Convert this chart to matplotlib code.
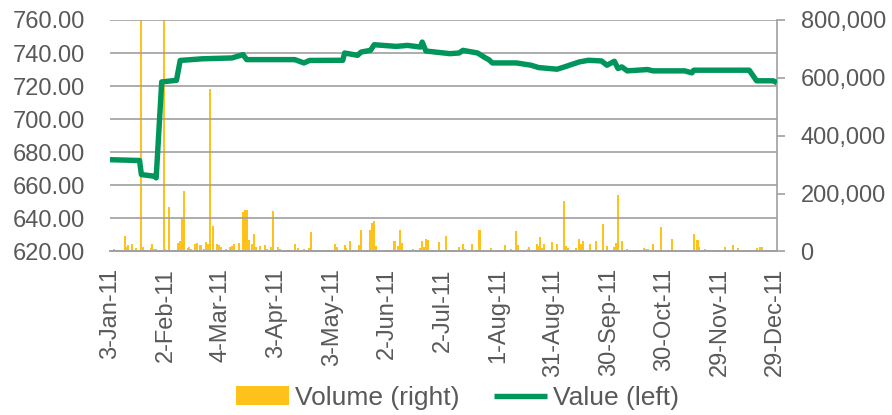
import pandas as pd
import matplotlib
matplotlib.use('Agg')
from matplotlib import pyplot as plt

plt.rcParams['font.family'] = ['Liberation Sans', 'DejaVu Sans']

# value series (left axis)
value_dates = ['2011-01-03', '2011-01-19', '2011-01-20', '2011-01-27', '2011-01-28',
               '2011-01-31', '2011-02-08', '2011-02-10', '2011-02-22', '2011-03-10',
               '2011-03-16', '2011-03-18', '2011-04-13', '2011-04-18', '2011-04-21',
               '2011-05-09', '2011-05-10', '2011-05-17', '2011-05-19', '2011-05-24',
               '2011-05-26', '2011-06-07', '2011-06-13', '2011-06-20', '2011-06-21',
               '2011-06-23', '2011-07-06', '2011-07-11', '2011-07-13', '2011-07-21',
               '2011-07-25', '2011-07-27', '2011-07-29', '2011-08-11', '2011-08-19',
               '2011-08-23', '2011-09-02', '2011-09-06', '2011-09-14', '2011-09-19',
               '2011-09-26', '2011-09-29', '2011-10-03', '2011-10-05', '2011-10-07',
               '2011-10-10', '2011-10-21', '2011-10-24', '2011-11-10', '2011-11-14',
               '2011-11-15', '2011-12-15', '2011-12-19', '2011-12-28', '2011-12-30']
values = [675.5, 675.0, 666.5, 665.5, 664.5,
          722.5, 723.5, 735.5, 736.5, 737.0,
          739.0, 736.0, 736.0, 734.0, 735.5,
          735.6, 740.0, 738.6, 740.6, 741.6,
          745.0, 744.0, 744.6, 743.6, 746.6,
          741.2, 739.6, 740.0, 741.6, 740.0,
          737.2, 736.0, 734.0, 734.0, 732.6,
          731.2, 730.2, 731.6, 734.6, 735.6,
          735.2, 732.6, 735.0, 730.6, 731.6,
          729.2, 730.0, 729.2, 729.2, 728.0,
          729.6, 729.6, 723.2, 723.2, 722.0]

# volume series (right axis)
volume_dates = ['2011-01-05', '2011-01-11', '2011-01-12', '2011-01-13', '2011-01-15',
                '2011-01-17', '2011-01-20', '2011-01-21', '2011-01-25', '2011-01-26',
                '2011-01-27', '2011-01-28', '2011-02-01', '2011-02-02', '2011-02-04',
                '2011-02-09', '2011-02-10', '2011-02-11', '2011-02-12', '2011-02-14',
                '2011-02-15', '2011-02-16', '2011-02-18', '2011-02-19', '2011-02-21',
                '2011-02-23', '2011-02-24', '2011-02-25', '2011-02-26', '2011-02-28',
                '2011-03-02', '2011-03-03', '2011-03-04', '2011-03-07', '2011-03-09',
                '2011-03-10', '2011-03-11', '2011-03-14', '2011-03-16', '2011-03-17',
                '2011-03-18', '2011-03-19', '2011-03-21', '2011-03-22', '2011-03-23',
                '2011-03-25', '2011-03-28', '2011-03-29', '2011-03-31', '2011-04-01',
                '2011-04-04', '2011-04-05', '2011-04-07', '2011-04-13', '2011-04-15',
                '2011-04-18', '2011-04-21', '2011-04-22', '2011-04-27', '2011-05-05',
                '2011-05-06', '2011-05-10', '2011-05-11', '2011-05-13', '2011-05-17',
                '2011-05-18', '2011-05-19', '2011-05-20', '2011-05-24', '2011-05-25',
                '2011-05-26', '2011-05-27', '2011-06-06', '2011-06-08', '2011-06-09',
                '2011-06-10', '2011-06-16', '2011-06-20', '2011-06-21', '2011-06-22',
                '2011-06-23', '2011-06-24', '2011-06-27', '2011-06-28', '2011-06-30',
                '2011-07-04', '2011-07-07', '2011-07-11', '2011-07-13', '2011-07-14',
                '2011-07-15', '2011-07-18', '2011-07-20', '2011-07-22', '2011-07-25',
                '2011-07-26', '2011-07-28', '2011-08-03', '2011-08-05', '2011-08-08',
                '2011-08-11', '2011-08-12', '2011-08-15', '2011-08-17', '2011-08-18',
                '2011-08-22', '2011-08-23', '2011-08-24', '2011-08-25', '2011-08-26',
                '2011-08-30', '2011-08-31', '2011-09-02', '2011-09-06', '2011-09-07',
                '2011-09-08', '2011-09-12', '2011-09-14', '2011-09-15', '2011-09-16',
                '2011-09-19', '2011-09-20', '2011-09-23', '2011-09-27', '2011-09-29',
                '2011-10-03', '2011-10-04', '2011-10-05', '2011-10-07', '2011-10-10',
                '2011-10-19', '2011-10-20', '2011-10-21', '2011-10-24', '2011-10-25',
                '2011-10-28', '2011-11-03', '2011-11-11', '2011-11-14', '2011-11-15',
                '2011-11-17', '2011-11-18', '2011-11-21', '2011-11-25', '2011-12-02',
                '2011-12-06', '2011-12-09', '2011-12-19', '2011-12-21', '2011-12-22']
volumes = [9000, 54000, 17000, 22000, 25000,
           11000, 900000, 14000, 11000, 26000,
           9000, 9000, 900000, 8000, 153000,
           29000, 37000, 119000, 208000, 11000,
           15000, 8000, 26000, 29000, 21000,
           9000, 33000, 26000, 560000, 87000,
           26000, 21000, 17000, 8000, 17000,
           20000, 26000, 29000, 137000, 144000,
           144000, 40000, 26000, 61000, 15000,
           20000, 22000, 8000, 16000, 141000,
           16000, 7000, 6000, 25000, 13000,
           9000, 13000, 67000, 6000, 26000,
           14000, 22000, 13000, 37000, 6000,
           22000, 73000, 6000, 73000, 100000,
           106000, 20000, 35000, 20000, 75000,
           29000, 9000, 11000, 37000, 17000,
           44000, 40000, 6000, 6000, 33000,
           54000, 6000, 17000, 26000, 8000,
           6000, 26000, 6000, 75000, 6000,
           6000, 13000, 6000, 23000, 8000,
           72000, 23000, 6000, 7000, 14000,
           26000, 20000, 50000, 12000, 26000,
           33000, 6000, 26000, 175000, 20000,
           13000, 13000, 43000, 26000, 35000,
           6000, 26000, 35000, 96000, 20000,
           14000, 31000, 195000, 35000, 9000,
           12000, 8000, 9000, 25000, 6000,
           84000, 44000, 6000, 6000, 59000,
           38000, 17000, 8000, 6000, 15000,
           21000, 12000, 12000, 16000, 16000]

tick_dates = pd.date_range('2011-01-03', periods=13, freq='30D')

grey = '#A0A0A0'
text_col = '#595959'

fig, ax = plt.subplots(figsize=(8.92, 4.15), dpi=100)
fig.subplots_adjust(left=0.1233, right=0.871, top=0.952, bottom=0.394)
ax2 = ax.twinx()

bars = ax2.bar(pd.to_datetime(volume_dates), volumes, width=1.1, color='#FFC21A',
               linewidth=0, label='Volume (right)')
line, = ax.plot(pd.to_datetime(value_dates), values, color='#00955A', linewidth=3.9,
                solid_capstyle='butt', solid_joinstyle='round', label='Value (left)')

# line above the bars
ax.set_zorder(ax2.get_zorder() + 1)
ax.patch.set_visible(False)

ax.set_ylim(620, 760)
ax.set_yticks(range(620, 761, 20))
ax.yaxis.set_major_formatter(plt.FuncFormatter(lambda v, p: f'{v:.2f}'))
ax2.set_ylim(0, 800000)
ax2.set_yticks(range(0, 800001, 200000))
ax2.yaxis.set_major_formatter(plt.FuncFormatter(lambda v, p: f'{int(v):,}'))

ax.set_xlim(pd.Timestamp('2011-01-03'), pd.Timestamp('2011-12-30'))
ax.set_xticks(tick_dates)
ax.set_xticklabels([f'{d.day}-{d.strftime("%b-%y")}' for d in tick_dates], rotation=90)

ax.grid(axis='y', color=grey, linewidth=1.2)
ax.set_axisbelow(True)

for a in (ax, ax2):
    for s in ('top', 'left', 'right'):
        a.spines[s].set_visible(False)
    a.spines['bottom'].set_color(grey)
    a.spines['bottom'].set_linewidth(1.2)
ax2.spines['right'].set_visible(True)
ax2.spines['right'].set_color(grey)
ax2.spines['right'].set_linewidth(1.2)

ax.tick_params(axis='y', length=0, pad=18, labelsize=17, labelcolor=text_col)
ax.tick_params(axis='x', length=0, pad=12, labelsize=17, labelcolor=text_col)
ax2.tick_params(axis='y', length=6, width=1.2, color=grey, pad=11, labelsize=17,
                labelcolor=text_col)

fig.legend(handles=[bars, line], loc='lower center', bbox_to_anchor=(0.513, -0.045), ncol=2,
           frameon=False, fontsize=19, handlelength=2.0, handletextpad=0.25,
           columnspacing=1.3, labelcolor=text_col)

fig.savefig('out.png', dpi=100)
